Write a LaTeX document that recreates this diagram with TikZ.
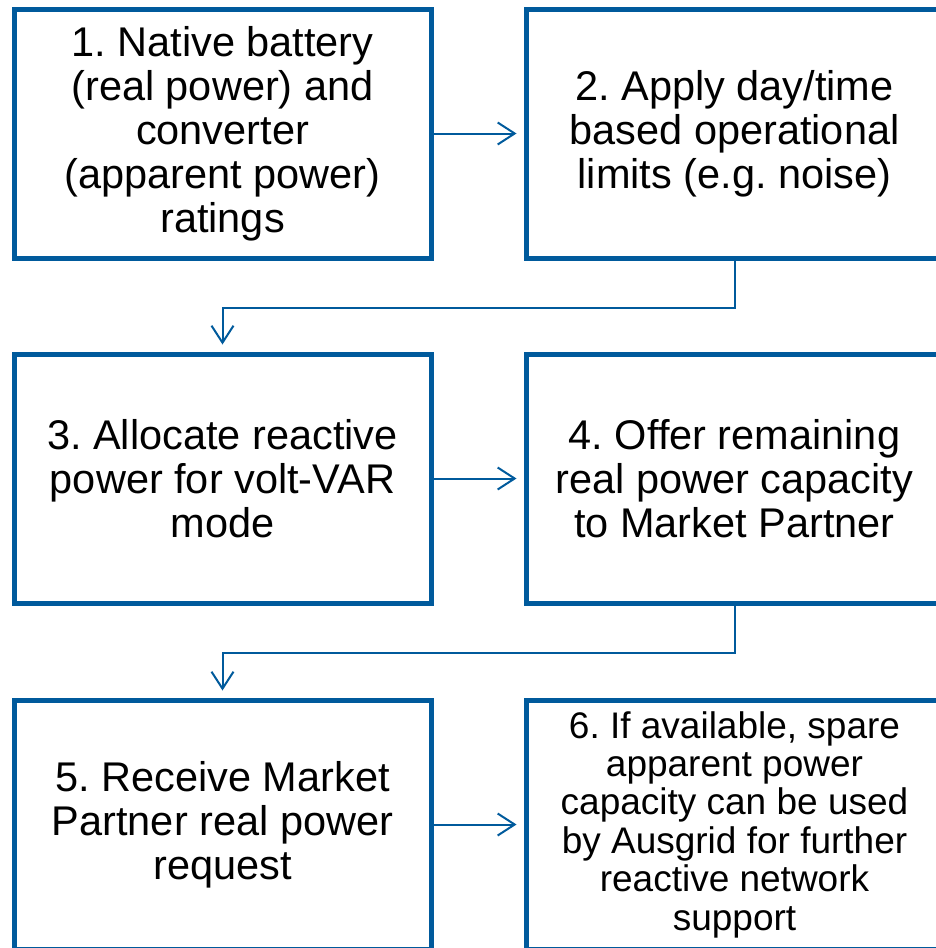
\documentclass[tikz,border=0pt]{standalone}
\usepackage{fontspec}
\setmainfont{Liberation Sans}
\usetikzlibrary{arrows.meta}
\definecolor{ablue}{RGB}{0,90,156}
\tikzset{
  box/.style={draw=ablue, line width=5pt, fill=white, minimum width=417pt, minimum height=249pt,
    align=center, inner sep=0pt, font=\fontsize{41.5}{44}\selectfont},
  link/.style={draw=ablue, line width=2pt, -{Straight Barb[length=17pt,width=22pt,line width=2pt]}, shorten >=7pt}
}
\frenchspacing
\begin{document}
\begin{tikzpicture}[x=1pt,y=-1pt]
\useasboundingbox (0,0) rectangle (936,948);
\clip (0,0) rectangle (936,948);
\node[box] (b1) at (222.5,133.5) {1. Native battery\\(real power) and\\converter\\(apparent power)\\ratings};
\node[box] (b2) at (734.5,133.5) {2. Apply day/time\\based operational\\limits (e.g. noise)};
\node[box] (b3) at (222.5,478.5) {3. Allocate reactive\\power for volt-VAR\\mode};
\node[box] (b4) at (734.5,478.5) {4. Offer remaining\\real power capacity\\to Market Partner};
\node[box] (b5) at (222.5,824.5) {5. Receive Market\\Partner real power\\request};
\node[box, font=\fontsize{37}{38.4}\selectfont] (b6) at (734.5,824.5) {6. If available, spare\\apparent power\\capacity can be used\\by Ausgrid for further\\reactive network\\support};
\draw[link] (b1.east) -- (b2.west);
\draw[link] (b3.east) -- (b4.west);
\draw[link] (b5.east) -- (b6.west);
\draw[link] (b2.south) -- ++(0,47) -| (b3.north);
\draw[link] (b4.south) -- ++(0,47) -| (b5.north);
\end{tikzpicture}
\end{document}
